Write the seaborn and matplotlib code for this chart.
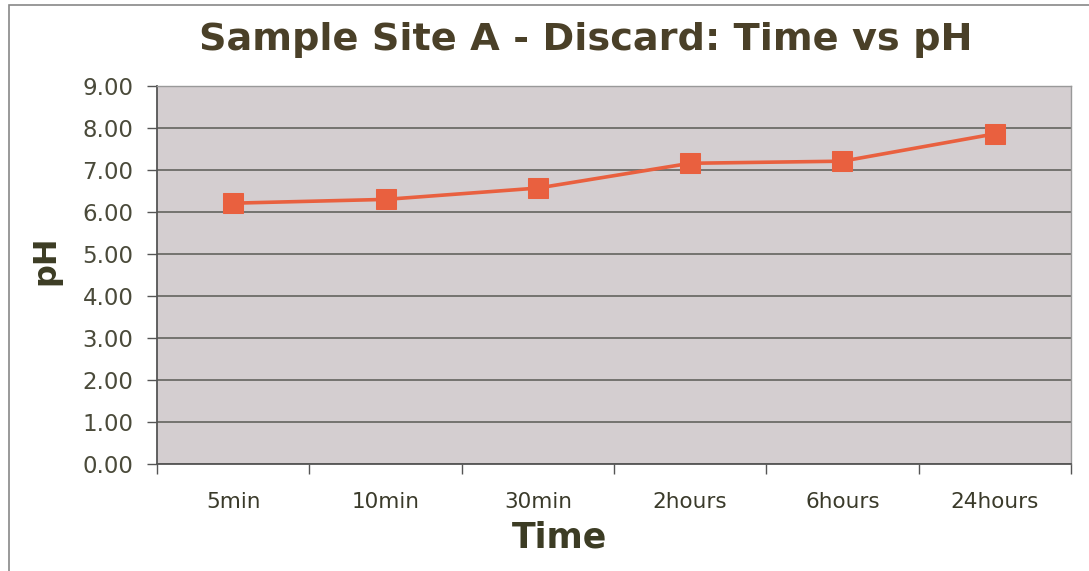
import matplotlib
matplotlib.use("Agg")
import matplotlib.pyplot as plt
import seaborn as sns
import pandas as pd
from matplotlib.ticker import FixedLocator, NullFormatter, FixedFormatter
from matplotlib.patches import Rectangle

times = ["5min", "10min", "30min", "2hours", "6hours", "24hours"]
ph = [6.21, 6.30, 6.57, 7.16, 7.21, 7.86]
yticks = [0, 1, 2, 3, 4, 5, 6, 7, 8, 9]
ytick_labels = ["0.00", "1.00", "2.00", "3.00", "4.00", "5.00", "6.00", "7.00", "8.00", "9.00"]
title = "Sample Site A - Discard: Time vs pH"

sns.set_theme(style="white")
plt.rcParams['font.family'] = ['DejaVu Sans']

df = pd.DataFrame({"Time": times, "pH": ph})

fig = plt.figure(figsize=(10.89, 5.71), dpi=100)
ax = fig.add_axes([157/1089, 1 - 464/571, (1071-157)/1089, (464-86)/571])
ax.set_facecolor("#d4ced0")

line_col = "#e9603f"
sns.lineplot(data=df, x="Time", y="pH", ax=ax, color=line_col, linewidth=2.6,
             marker="s", markersize=14, markeredgecolor=line_col, markerfacecolor=line_col,
             sort=False)

n = len(times)
ax.set_xlim(-0.5, n - 0.5)
ax.set_ylim(0, 9)

# Excel-style category axis: tick marks between categories, labels centered
ax.xaxis.set_major_locator(FixedLocator([i - 0.5 for i in range(n + 1)]))
ax.xaxis.set_major_formatter(NullFormatter())
ax.xaxis.set_minor_locator(FixedLocator(list(range(n))))
ax.xaxis.set_minor_formatter(FixedFormatter(times))
ax.tick_params(axis="x", which="major", length=7, width=1, color="#555555", direction="out", bottom=True)
ax.tick_params(axis="x", which="minor", length=0, labelsize=15.5, labelcolor="#3a3a2a", pad=20)

ax.set_yticks(yticks)
ax.set_yticklabels(ytick_labels)
ax.tick_params(axis="y", length=7, width=1, color="#555555", direction="out", left=True,
               labelsize=16.5, labelcolor="#4a4a3a", pad=10)

ax.grid(axis="y", color="#5a5a55", linewidth=1.1)
ax.set_axisbelow(True)
for s in ["left", "bottom"]:
    ax.spines[s].set_color("#555555")
    ax.spines[s].set_linewidth(1.3)
for s in ["top", "right"]:
    ax.spines[s].set_color("#999999")
    ax.spines[s].set_linewidth(1.0)

ax.set_xlabel("Time", fontsize=25, fontweight="bold", color="#3c3c24")
ax.xaxis.set_label_coords((559 - 157) / (1071 - 157), -(538 - 464) / (464 - 86))
ax.xaxis.label.set_va("center")
ax.set_ylabel("pH", fontsize=23, fontweight="bold", color="#3c3c24")
ax.yaxis.set_label_coords(-(157 - 46) / (1071 - 157), (464 - 260) / (464 - 86))
ax.yaxis.label.set_va("center")
fig.text(586/1089, 1 - 40/571, title, ha="center", va="center",
         fontsize=27.5, fontweight="bold", color="#4a4028")

# outer chart frame
fig.patches.append(Rectangle((9/1089, -0.2), 1.2, 1.2 - 5/571, transform=fig.transFigure,
                             fill=False, edgecolor="#888888", linewidth=1.2, zorder=0))

fig.savefig("out.png", dpi=100, facecolor="white")
